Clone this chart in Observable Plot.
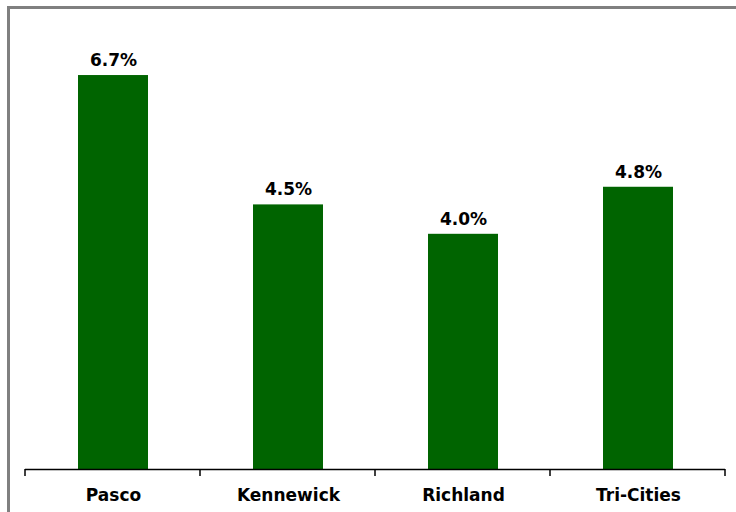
<!DOCTYPE html>
<html>
<head>
<meta charset="utf-8">
<script src="https://cdn.jsdelivr.net/npm/d3@7"></script>
<script src="https://cdn.jsdelivr.net/npm/@observablehq/plot@0.6"></script>
<style>
  html, body { margin: 0; padding: 0; background: #fff; }
  #wrap { position: relative; width: 736px; height: 512px; overflow: hidden; }
  #frame { position: absolute; left: 7px; top: 6px; width: 740px; height: 520px;
           border-top: 3px solid #808080; border-left: 3px solid #808080; box-sizing: border-box; }
  #chart { position: absolute; left: 0; top: 0; }
</style>
</head>
<body>
<div id="wrap"><div id="frame"></div><div id="chart"></div></div>
<script>
const cities = ["Pasco", "Kennewick", "Richland", "Tri-Cities"];
const rates = [6.7, 4.5, 4.0, 4.8];
const labels = ["6.7%", "4.5%", "4.0%", "4.8%"];

const data = cities.map((c, i) => ({city: c, rate: rates[i], label: labels[i]}));

const font = "'DejaVu Sans', sans-serif";

const plot = Plot.plot({
  width: 736,
  height: 512,
  marginLeft: 25,
  marginRight: 11,
  marginTop: 28,
  marginBottom: 43,
  style: {fontFamily: font, background: "transparent", overflow: "visible"},
  x: {domain: cities, paddingInner: 0.6, paddingOuter: 0.3, label: null},
  y: {domain: [0, 7.5], axis: null},
  marks: [
    Plot.barY(data, {x: "city", y: "rate", fill: "#006400"}),
    Plot.text(data, {x: "city", y: "rate", text: "label", dy: -15, fontSize: 17, fontWeight: "bold", fill: "#000"}),
    Plot.ruleY([0], {stroke: "#000", strokeWidth: 1.5}),
    Plot.axisX({tickSize: 0, tickPadding: 19, fontSize: 17, fontWeight: "bold", fill: "#000"})
  ]
});

// boundary ticks at band edges, derived from the plot's x scale
const xs = plot.scale("x");
const ys = plot.scale("y");
const [r0, r1] = xs.range;
const step = (r1 - r0) / cities.length;
const y0 = ys.apply(0);
const svg = d3.select(plot);
const g = svg.append("g").attr("stroke", "#000").attr("stroke-width", 1.5);
for (let i = 0; i <= cities.length; i++) {
  const x = r0 + i * step;
  g.append("line").attr("x1", x).attr("x2", x).attr("y1", y0).attr("y2", y0 + 7);
}

document.getElementById("chart").appendChild(plot);
</script>
</body>
</html>
